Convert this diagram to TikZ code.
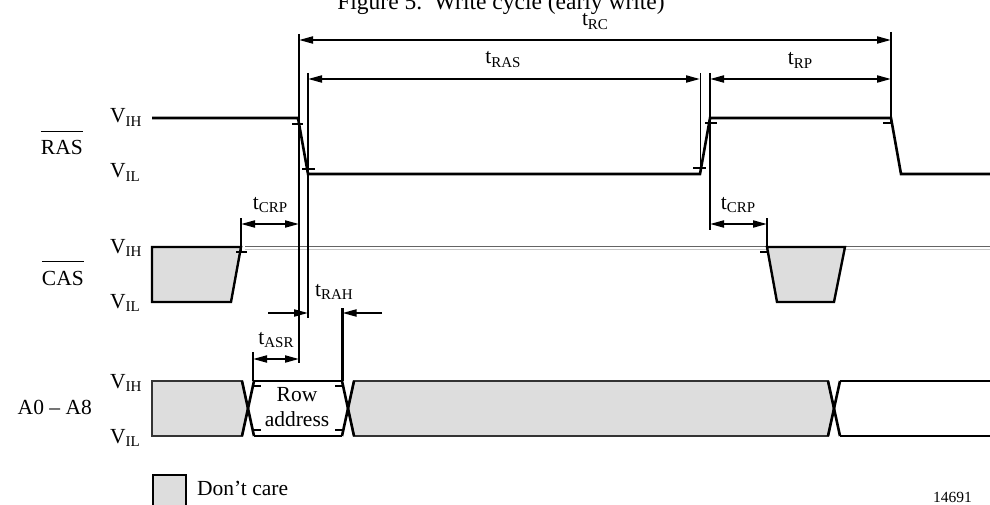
\documentclass[tikz,border=0pt]{standalone}
\usepackage{fontspec}
\setmainfont{Liberation Serif}
\usetikzlibrary{arrows.meta,calc}
\definecolor{dcgray}{RGB}{221,221,221}
\definecolor{lvldark}{RGB}{100,100,100}
\definecolor{lvllight}{RGB}{200,200,200}
\newcommand\lsub[2]{#1\raisebox{-3.5pt}{\fontsize{15}{15}\selectfont #2}}
\begin{document}
\begin{tikzpicture}[x=1pt,y=-1pt,
  every node/.style={font=\fontsize{21.5}{25}\selectfont, inner sep=0pt},
  wave/.style={line width=2.6pt, line join=miter},
  tick/.style={line width=2pt},
  vline/.style={line width=2.3pt},
  thinline/.style={line width=1pt},
  dim/.style={line width=2pt, {Triangle[length=14pt,width=7pt]}-{Triangle[length=14pt,width=7pt]}},
  onearrow/.style={line width=2pt, -{Triangle[length=14pt,width=7pt]}},
  dcshape/.style={fill=dcgray, draw=black, line width=2.4pt, line join=miter},
  dcaddr/.style={fill=dcgray, draw=black!80, line width=1.8pt, line join=miter},
  lbl/.style={anchor=base},
  lvl/.style={anchor=base west}
]
\useasboundingbox (0,0) rectangle (990,505);

% title
\node[lbl, font=\fontsize{23.5}{27}\selectfont] (title) at (501,10) {Figure 5.\ \ Write cycle (early write)};

% signal names
\node[anchor=base east] (ras) at (83,155) {RAS};
\draw[line width=1.5pt] ($(ras.north west)+(0,-9)$) -- ($(ras.north east)+(0,-9)$);
\node[anchor=base east] (cas) at (84,285) {CAS};
\draw[line width=1.5pt] ($(cas.north west)+(0,-9)$) -- ($(cas.north east)+(0,-9)$);
\node[anchor=base east] (addr) at (92,414) {A0 -- A8};

\node[lvl] (rvih) at (110,123) {\lsub{V}{IH}};
\node[lvl] (rvil) at (110,178) {\lsub{V}{IL}};
\node[lvl] (cvih) at (110,253) {\lsub{V}{IH}};
\node[lvl] (cvil) at (110,308) {\lsub{V}{IL}};
\node[lvl] (avih) at (110,388) {\lsub{V}{IH}};
\node[lvl] (avil) at (110,443) {\lsub{V}{IL}};

% RAS waveform
\draw[wave] (152,118) -- (298,118) -- (308,174) -- (700,174) -- (710,118) -- (891,118) -- (901,174) -- (992,174);
\draw[tick] (292,124) -- (303,124);
\draw[tick] (302,169) -- (315,169);
\draw[tick] (693,168) -- (706,168);
\draw[tick] (705,123) -- (717,123);
\draw[tick] (883,123) -- (893,123);

% CAS level lines
\draw[lvldark, line width=1pt] (245,246.5) -- (992,246.5);
\draw[lvllight, line width=1pt] (245,249) -- (992,249);

% CAS waveform
\draw[dcshape] (152,247) -- (241,247) -- (231,302) -- (152,302) -- cycle;
\draw[tick] (236,252) -- (247,252);
\draw[dcshape] (767,247) -- (845,247) -- (834,302) -- (777,302) -- cycle;
\draw[tick] (760,252) -- (767,252);

% Address waveform
\draw[dcaddr] (152,381) -- (242,381) -- (248,408.5) -- (242,436) -- (152,436) -- cycle;
\draw[dcaddr] (354,381) -- (828,381) -- (834,408.5) -- (828,436) -- (354,436) -- (348,408.5) -- cycle;
\draw[wave] (242,381) -- (254,436);
\draw[wave] (242,436) -- (254,381);
\draw[wave] (342,381) -- (354,436);
\draw[wave] (342,436) -- (354,381);
\draw[wave] (828,381) -- (840,436);
\draw[wave] (828,436) -- (840,381);
\draw[wave] (254,381) -- (342,381);
\draw[wave] (254,436) -- (342,436);
\draw[wave] (992,381) -- (840,381);
\draw[wave] (992,436) -- (840,436);
\draw[tick] (252,386) -- (261,386);
\draw[tick] (252,430) -- (261,430);
\draw[tick] (335,386) -- (344,386);
\draw[tick] (335,430) -- (344,430);
\node[lbl] (row) at (297,401) {Row};
\node[lbl] (rowaddr) at (297,426) {address};

% vertical reference lines
\coordinate (v1t) at (299,34);  \coordinate (v1b) at (299,363);
\coordinate (v2t) at (308,73);  \coordinate (v2b) at (308,318);
\coordinate (v3t) at (891,32);  \coordinate (v3b) at (891,122);
\coordinate (v4t) at (700,73);  \coordinate (v4b) at (700,172);
\coordinate (v5t) at (710,73);  \coordinate (v5b) at (710,230);
\coordinate (v6t) at (241,218); \coordinate (v6b) at (241,251);
\coordinate (v7t) at (767,218); \coordinate (v7b) at (767,247);
\coordinate (v8t) at (253,352); \coordinate (v8b) at (253,381);
\coordinate (v9t) at (342.5,308); \coordinate (v9b) at (342.5,381);
\draw[vline] (v1t) -- (v1b);
\draw[vline] (v2t) -- (v2b);
\draw[vline] (v3t) -- (v3b);
\draw[thinline] (v4t) -- (v4b);
\draw[vline] (v5t) -- (v5b);
\draw[vline] (v6t) -- (v6b);
\draw[vline] (v7t) -- (v7b);
\draw[vline] (v8t) -- (v8b);
\draw[vline] (v9t) -- (v9b);

% dimension arrows
\draw[dim] (299,40) -- (891,40);
\node[lbl] (trc) at (595,26) {\lsub{t}{RC}};
\draw[dim] (308,79) -- (700,79);
\node[lbl] (tras) at (503,64) {\lsub{t}{RAS}};
\draw[dim] (710,79) -- (891,79);
\node[lbl] (trp) at (800,65) {\lsub{t}{RP}};
\draw[dim] (241,224) -- (299,224);
\node[lbl] (tcrp1) at (270,209) {\lsub{t}{CRP}};
\draw[dim] (710,224) -- (767,224);
\node[lbl] (tcrp2) at (738,209) {\lsub{t}{CRP}};
\draw[dim] (253,359) -- (299,359);
\node[lbl] (tasr) at (276,344) {\lsub{t}{ASR}};
\coordinate (rahl) at (268,313);
\coordinate (rahr) at (382,313);
\draw[onearrow] (rahl) -- (308,313);
\draw[onearrow] (rahr) -- (342.5,313);
\node[lbl] (trah) at (334,296) {\lsub{t}{RAH}};

% legend
\draw[fill=dcgray, draw=black, line width=2pt] (153,475) rectangle (186,512);
\node[anchor=base west] (dc) at (197,495) {Don’t care};
\node[anchor=base east, font=\fontsize{15.5}{18}\selectfont] (fignum) at (972,502) {14691};
\end{tikzpicture}
\end{document}
